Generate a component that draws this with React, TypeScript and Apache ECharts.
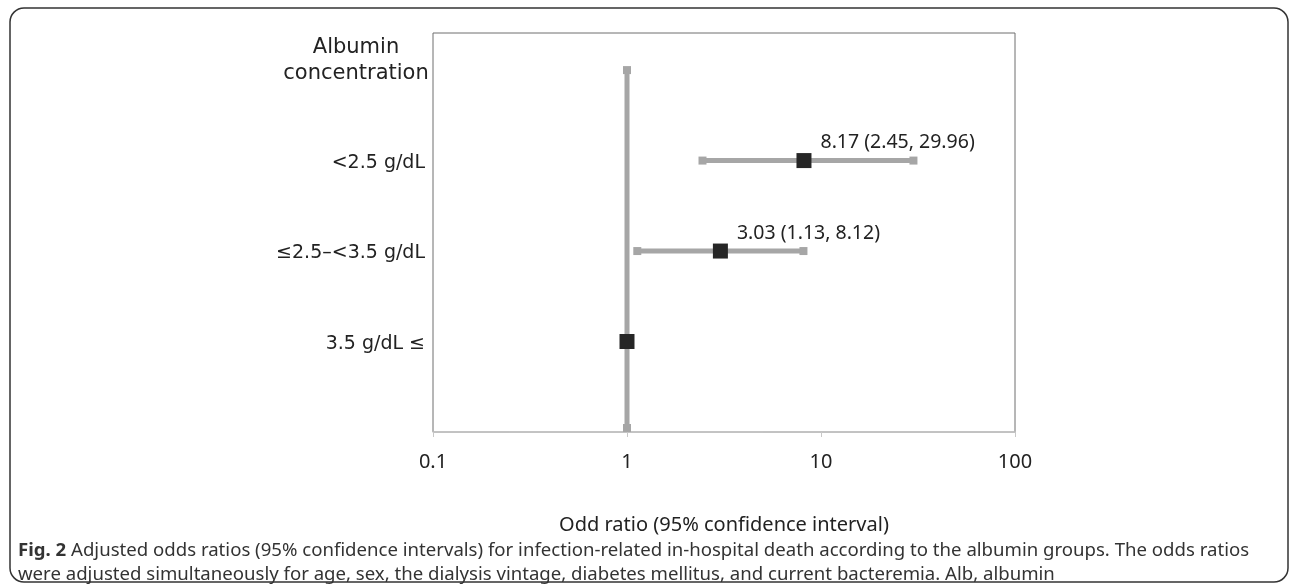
import React, { useEffect, useRef } from "react";
import * as echarts from "echarts";

const categories = ["3.5 g/dL ≤", "≤2.5–<3.5 g/dL", "<2.5 g/dL"];
const rowPositions = [1, 2, 3];
const oddsRatios = [1, 3.03, 8.17];
const lowerCI: (number | null)[] = [null, 1.13, 2.45];
const upperCI: (number | null)[] = [null, 8.12, 29.96];
const pointLabels = ["", "3.03 (1.13, 8.12)", "8.17 (2.45, 29.96)"];
const referenceX = 1;
const referenceYRange = [0, 4];
const xTicks = [0.1, 1, 10, 100];

const GRAY = "#a6a6a6";
const DARK = "#262626";
const FONT = "Noto Sans";
const FONT_V = "DejaVu Sans";

export default function App() {
  const ref = useRef<HTMLDivElement>(null);
  useEffect(() => {
    document.body.style.margin = "0";
    const chart = echarts.init(ref.current!, null, { renderer: "svg" });

    const ciData = rowPositions
      .map((y, i) => (lowerCI[i] != null ? [lowerCI[i], upperCI[i], y] : null))
      .filter((d) => d !== null);

    const refData = [[referenceX, referenceYRange[0], referenceYRange[1]]];

    const labelMap: Record<number, string> = {};
    rowPositions.forEach((p, i) => (labelMap[p] = categories[i]));

    chart.setOption({
      animation: false,
      grid: {
        left: 433,
        right: 1292 - 1015,
        top: 33,
        bottom: 584 - 432,
        show: true,
        borderColor: "#6e6e6e",
        borderWidth: 1,
        backgroundColor: "#fff",
      },
      xAxis: {
        type: "log",
        logBase: 10,
        min: xTicks[0],
        max: xTicks[xTicks.length - 1],
        axisLine: { show: true, lineStyle: { color: "#c8c8c8", width: 1.5 } },
        axisTick: { show: true, length: 5, lineStyle: { color: "#c8c8c8" } },
        splitLine: { show: false },
        axisLabel: { fontSize: 20, color: "#222", fontFamily: FONT, margin: 18 },
        name: "Odd ratio (95% confidence interval)",
        nameLocation: "middle",
        nameGap: 81,
        nameTextStyle: { fontSize: 20, color: "#222", fontFamily: FONT },
      },
      yAxis: {
        type: "value",
        min: 0,
        max: 4.41,
        interval: 1,
        axisLine: { show: false },
        axisTick: { show: false },
        splitLine: { show: false },
        axisLabel: {
          fontSize: 19,
          color: "#222",
          fontFamily: FONT_V,
          margin: 8,
          formatter: (v: number) => labelMap[v] || "",
        },
      },
      graphic: [
        {
          type: "rect",
          shape: { x: 10, y: 8, width: 1278, height: 574, r: 14 },
          style: { fill: "none", stroke: "#333", lineWidth: 1.5 },
          z: -10,
        },
        {
          type: "text",
          x: 356,
          y: 33,
          style: {
            text: "Albumin\nconcentration",
            fontSize: 21,
            fontFamily: FONT_V,
            fill: "#222",
            align: "center",
            lineHeight: 26,
          },
        },
        {
          type: "text",
          x: 18,
          y: 536,
          style: {
            text:
              "{b|Fig. 2} Adjusted odds ratios (95% confidence intervals) for infection-related in-hospital death according to the albumin groups. The odds ratios\nwere adjusted simultaneously for age, sex, the dialysis vintage, diabetes mellitus, and current bacteremia. Alb, albumin",
            fontSize: 18.6,
            fontFamily: FONT,
            fill: "#333",
            lineHeight: 24,
            rich: {
              b: { fontWeight: "bold", fontSize: 18.6, fontFamily: FONT, fill: "#333", lineHeight: 24 },
            },
          },
        },
      ],
      series: [
        {
          type: "custom",
          name: "reference",
          coordinateSystem: "cartesian2d",
          data: refData,
          encode: { x: 0, y: [1, 2] },
          z: 2,
          renderItem: (params: any, api: any) => {
            const x = api.value(0);
            const a = api.coord([x, api.value(1)]);
            const b = api.coord([x, api.value(2)]);
            return {
              type: "group",
              children: [
                { type: "line", shape: { x1: a[0], y1: a[1], x2: b[0], y2: b[1] }, style: { stroke: GRAY, lineWidth: 5 } },
                { type: "rect", shape: { x: a[0] - 4, y: a[1] - 8, width: 8, height: 8 }, style: { fill: GRAY } },
                { type: "rect", shape: { x: b[0] - 4, y: b[1] - 4, width: 8, height: 8 }, style: { fill: GRAY } },
              ],
            };
          },
        },
        {
          type: "custom",
          name: "ci",
          coordinateSystem: "cartesian2d",
          data: ciData,
          encode: { x: [0, 1], y: 2 },
          z: 3,
          renderItem: (params: any, api: any) => {
            const y = api.value(2);
            const a = api.coord([api.value(0), y]);
            const b = api.coord([api.value(1), y]);
            return {
              type: "group",
              children: [
                { type: "line", shape: { x1: a[0], y1: a[1], x2: b[0], y2: b[1] }, style: { stroke: GRAY, lineWidth: 5 } },
                { type: "rect", shape: { x: a[0] - 4, y: a[1] - 4, width: 8, height: 8 }, style: { fill: GRAY } },
                { type: "rect", shape: { x: b[0] - 4, y: b[1] - 4, width: 8, height: 8 }, style: { fill: GRAY } },
              ],
            };
          },
        },
        {
          type: "scatter",
          name: "OR",
          z: 5,
          symbol: "rect",
          symbolSize: 15,
          itemStyle: { color: DARK, opacity: 1 },
          data: rowPositions.map((y, i) => ({
            value: [oddsRatios[i], y],
            label: {
              show: pointLabels[i] !== "",
              formatter: pointLabels[i],
              position: "right",
              offset: [4, -20],
              fontSize: 19.5,
              fontFamily: FONT,
              color: "#222",
            },
          })),
        },
      ],
    });
    return () => chart.dispose();
  }, []);
  return <div ref={ref} style={{ position: "fixed", left: 0, top: 0, width: 1292, height: 584 }} />;
}
